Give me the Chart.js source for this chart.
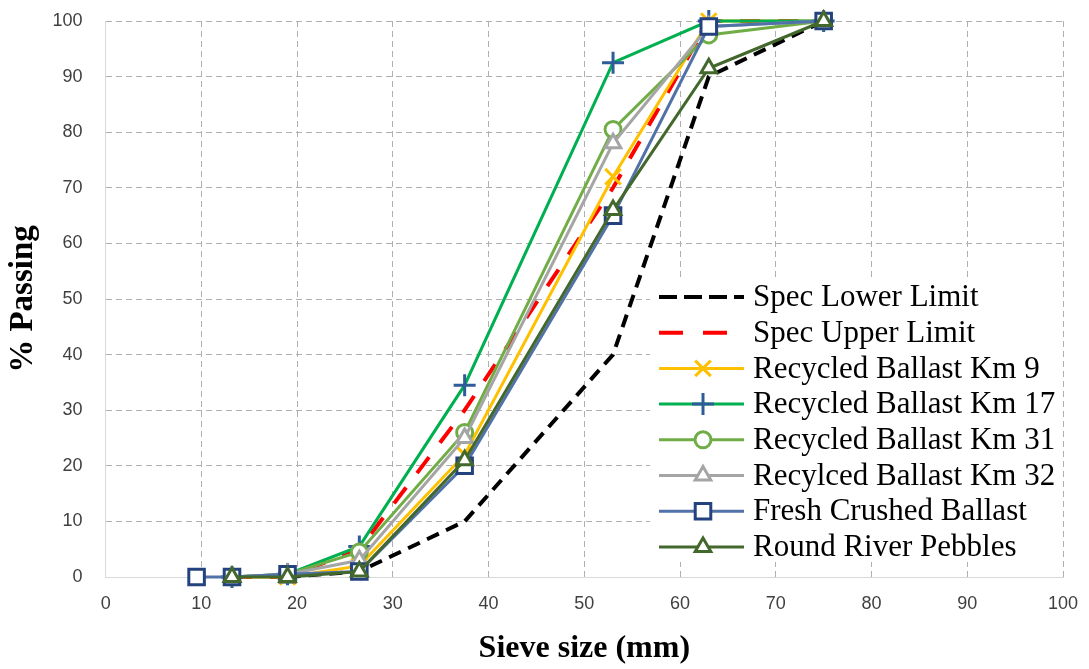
<!DOCTYPE html>
<html>
<head>
<meta charset="utf-8">
<script src="https://cdn.jsdelivr.net/npm/chart.js@4.4.1/dist/chart.umd.min.js"></script>
<style>
  html, body { margin: 0; padding: 0; background: #fff; }
  #wrap { width: 1089px; height: 669px; }
</style>
</head>
<body>
<div id="wrap"><canvas id="canvas"></canvas></div>
<script>
// sieve sizes (mm)
var sieves = [9.5, 13.2, 19, 26.5, 37.5, 53, 63, 75];

// % passing, null where a series has no point
var specLower   = [null, null, 0, 1, 10, 40, 90, 100];
var specUpper   = [null, 0, 0, 5, 30, 70, 100, 100];
var km9         = [null, 0, 0, 2, 22, 72, 100, 100];
var km17        = [null, 0, 0.5, 5.5, 34.5, 92.5, 100, 100];
var km31        = [null, 0, 0.5, 4.5, 26, 80.5, 97.5, 100];
var km32        = [null, 0, 0.5, 3, 25, 78, 99, 100];
var freshCrushed = [0, 0, 0.5, 1, 20, 65, 99, 100];
var riverPebbles = [null, 0, 0, 1, 21, 66, 91.5, 100];

var seriesNames = ["Spec Lower Limit", "Spec Upper Limit", "Recycled Ballast Km 9",
    "Recycled Ballast Km 17", "Recycled Ballast Km 31", "Recylced Ballast Km 32",
    "Fresh Crushed Ballast", "Round River Pebbles"];

function pts(arr) {
    var out = [];
    for (var i = 0; i < sieves.length; i++) {
        if (arr[i] !== null) out.push({ x: sieves[i], y: arr[i] });
    }
    return out;
}

function series(name, arr, line, marker, style, extra) {
    var ds = {
        label: name,
        data: pts(arr),
        borderColor: line,
        backgroundColor: "#ffffff",
        borderWidth: 3,
        pointStyle: style || false,
        pointRadius: style ? 9 : 0,
        pointBorderColor: marker,
        pointBackgroundColor: "#ffffff",
        pointBorderWidth: 3,
        tension: 0,
        clip: false
    };
    for (var k in extra) ds[k] = extra[k];
    return ds;
}

var datasets = [
    series(seriesNames[0], specLower, "#000000", "#000000", null, { borderWidth: 4, borderDash: [13, 8], order: 7 }),
    series(seriesNames[1], specUpper, "#ff0000", "#ff0000", null, { borderWidth: 4, borderDash: [20, 18], order: 6 }),
    series(seriesNames[2], km9, "#ffc000", "#ffc000", "crossRot", { pointRadius: 11, order: 5 }),
    series(seriesNames[3], km17, "#00b050", "#2e5c99", "cross", { pointRadius: 11, order: 4 }),
    series(seriesNames[4], km31, "#70ad47", "#70ad47", "circle", { pointRadius: 8, order: 3 }),
    series(seriesNames[5], km32, "#a5a5a5", "#a5a5a5", "triangle", { order: 2 }),
    series(seriesNames[6], freshCrushed, "#5072a8", "#24427e", "rect", { pointRadius: 11, order: 1 }),
    series(seriesNames[7], riverPebbles, "#43682b", "#43682b", "triangle", { order: 0 })
];

// legend drawn inside the plot area, like the spreadsheet original
var innerLegend = {
    id: "innerLegend",
    afterDatasetsDraw: function (chart) {
        var ctx = chart.ctx;
        var x0 = 655, y0 = 297, step = 35.7;
        ctx.save();
        ctx.fillStyle = "#ffffff";
        ctx.fillRect(650, 280, 412, 282);
        chart.data.datasets.forEach(function (ds, i) {
            var y = y0 + i * step;
            ctx.save();
            ctx.strokeStyle = ds.borderColor;
            ctx.lineWidth = ds.borderWidth;
            if (ds.borderDash) ctx.setLineDash(i === 1 ? [24, 20] : [18, 7]);
            ctx.lineCap = "butt";
            ctx.beginPath();
            ctx.moveTo(x0 + 4, y);
            ctx.lineTo(x0 + 89, y);
            ctx.stroke();
            ctx.restore();
            if (ds.pointStyle) {
                ctx.save();
                ctx.strokeStyle = ds.pointBorderColor;
                ctx.fillStyle = "#ffffff";
                ctx.lineWidth = ds.pointBorderWidth;
                Chart.helpers.drawPoint(ctx, {
                    pointStyle: ds.pointStyle,
                    radius: ds.pointRadius,
                    rotation: 0,
                    borderWidth: ds.pointBorderWidth
                }, x0 + 48, y);
                ctx.restore();
            }
            ctx.fillStyle = "#000000";
            ctx.font = "31px 'Liberation Serif'";
            ctx.textBaseline = "middle";
            ctx.fillText(ds.label, x0 + 98, y + 1);
        });
        ctx.restore();
    }
};

Chart.defaults.font.family = "'Liberation Sans', Arial, sans-serif";
Chart.defaults.color = "#404040";

new Chart(document.getElementById("canvas"), {
    type: "line",
    data: { datasets: datasets },
    plugins: [innerLegend],
    options: {
        responsive: true,
        maintainAspectRatio: false,
        animation: false,
        layout: { autoPadding: false, padding: { top: 21, right: 26, left: 4, bottom: 1 } },
        plugins: {
            legend: { display: false },
            tooltip: { enabled: false }
        },
        scales: {
            x: {
                type: "linear",
                min: 0, max: 100,
                ticks: { stepSize: 10, font: { size: 18 }, padding: 4 },
                grid: { color: "#b0b0b0", tickLength: 12, tickColor: "rgba(0,0,0,0)", lineWidth: 1 },
                border: { dash: [6, 4], color: "#d9d9d9" },
                title: {
                    display: true,
                    text: "Sieve size (mm)",
                    font: { family: "'Liberation Serif'", size: 32, weight: "bold" },
                    color: "#000000",
                    padding: { top: 11, bottom: 0 }
                }
            },
            y: {
                min: 0, max: 100,
                ticks: { stepSize: 10, font: { size: 18 }, padding: 4 },
                grid: { color: "#b0b0b0", tickLength: 19, tickColor: "rgba(0,0,0,0)", lineWidth: 1 },
                border: { dash: [6, 4], color: "#d9d9d9" },
                title: {
                    display: true,
                    text: "% Passing",
                    font: { family: "'Liberation Serif'", size: 33, weight: "bold" },
                    color: "#000000",
                    padding: { top: 0, bottom: 5 }
                }
            }
        }
    }
});
</script>
</body>
</html>
